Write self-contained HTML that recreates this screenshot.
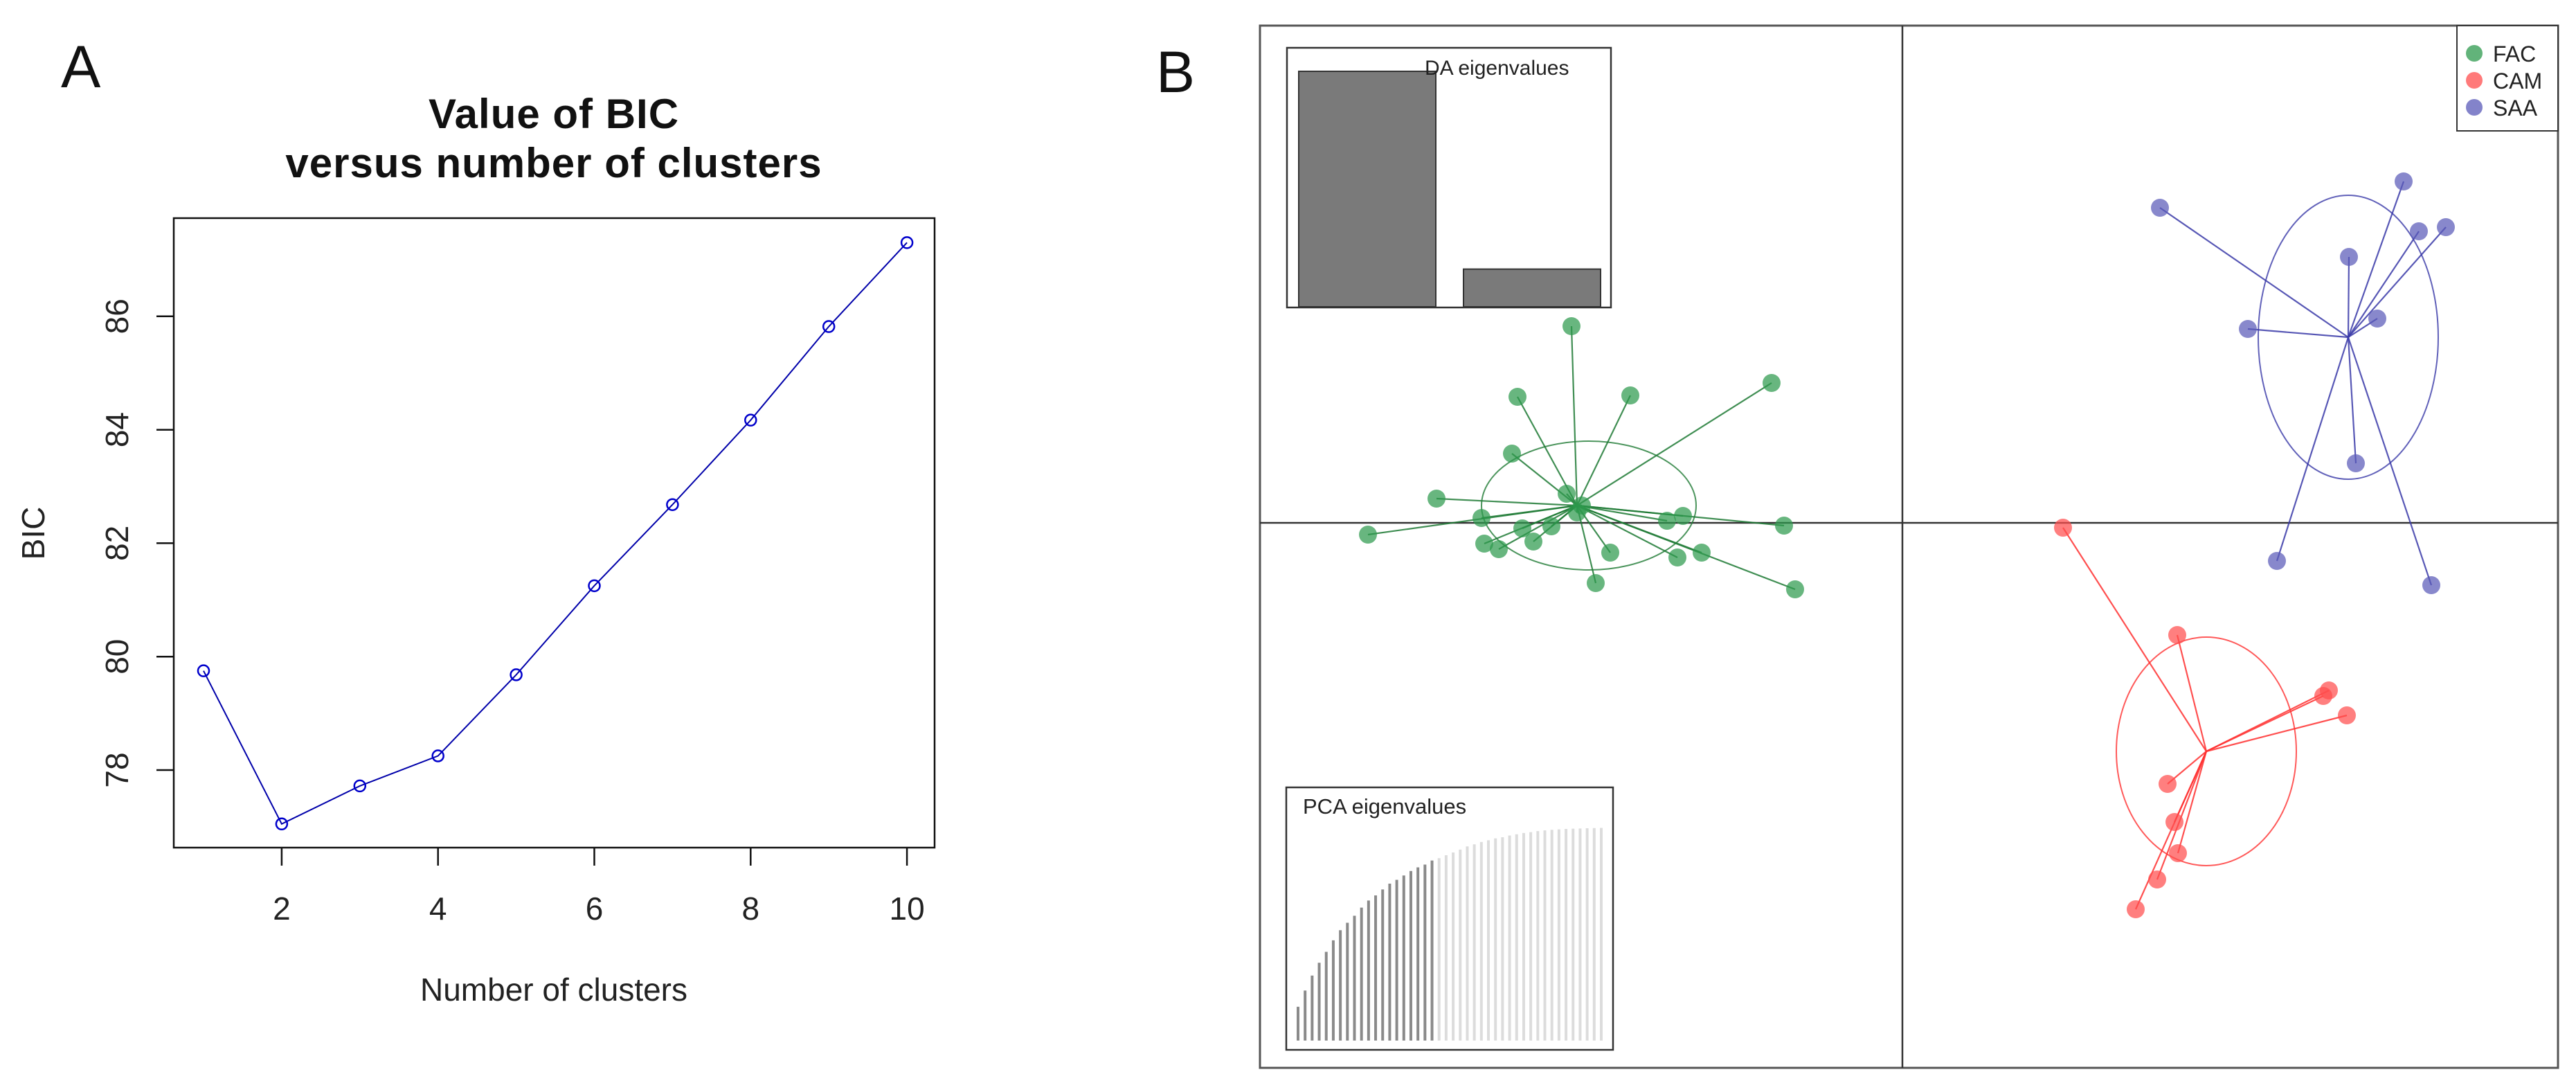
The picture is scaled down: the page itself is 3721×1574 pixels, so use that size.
<!DOCTYPE html>
<html><head><meta charset="utf-8"><style>
html,body{margin:0;padding:0;background:#fff;}
svg{display:block;font-family:"Liberation Sans",sans-serif;}
</style></head><body>
<svg id="chart" width="3721" height="1574" viewBox="0 0 3721 1574" xmlns="http://www.w3.org/2000/svg">
<rect width="3721" height="1574" fill="#fff"/>
<text x="88" y="126" font-size="86" fill="#111">A</text>
<text x="1670" y="133" font-size="84" fill="#111">B</text>
<g id="panelA"></g>
<g id="panelB"></g>
</svg>
<script>
// ---- Panel A data ----
const clusters = [1,2,3,4,5,6,7,8,9,10];
const bicValues = [79.75,77.05,77.72,78.25,79.68,81.25,82.68,84.17,85.82,87.3];
const xTicks = [2,4,6,8,10];
const yTicks = [78,80,82,84,86];

// ---- Panel B data ----
const facLD1 = [-4.78,-1.89,-5.56,-3.93,-5.64,-6.73,-4.85,-6.08,-7.72,-5.49,-5.07,-5.33,-6.04,-5.83,-4.22,-3.40,-3.17,-1.71,-2.90,-3.25,-4.43,-1.55,-4.70,-4.63];
const facLD2 = [2.84,2.02,1.82,1.84,1.00,0.35,0.42,0.07,-0.17,-0.08,-0.05,-0.27,-0.30,-0.38,-0.43,0.03,0.10,-0.04,-0.43,-0.50,-0.87,-0.96,0.15,0.25];
const saaLD1 = [3.72,7.24,7.46,7.85,6.45,6.86,4.99,6.55,5.41,7.64];
const saaLD2 = [4.55,4.93,4.21,4.27,3.84,2.95,2.80,0.86,-0.55,-0.90];
const camLD1 = [2.32,3.97,6.16,6.08,6.42,3.83,3.93,3.98,3.68,3.37];
const camLD2 = [-0.07,-1.62,-2.42,-2.50,-2.78,-3.77,-4.32,-4.77,-5.15,-5.58];
const groupNames = ["FAC","CAM","SAA"];
const centroidLD1 = [-4.70,4.39,6.44];
const centroidLD2 = [0.25,-3.30,2.68];
const ellipseCx = [-4.53,4.39,6.44];
const ellipseCy = [0.25,-3.30,2.68];
const ellipseRx = [1.55,1.30,1.30];
const ellipseRy = [0.93,1.65,2.05];
const daEigen = [100,16];
const pcaCumVar = [15.8,23.4,30.4,36.4,41.5,46.9,51.6,55.1,58.4,62.2,65.5,67.9,70.7,73.4,75.2,77.2,79.3,81.0,82.3,84.2,85.3,86.7,88.0,89.3,90.8,91.8,92.9,93.7,94.6,95.1,95.9,96.5,97.1,97.5,98.0,98.3,98.6,98.8,99.0,99.1,99.2,99.3,99.4,99.5];
const pcaRetained = 20;

const NS="http://www.w3.org/2000/svg";
function mk(tag, attrs, parent){const e=document.createElementNS(NS,tag);for(const k in attrs)e.setAttribute(k,attrs[k]);parent.appendChild(e);return e;}

// ---------- Panel A ----------
const A=document.getElementById('panelA');
const ax=v=>294+(v-1)*112.9;
const ay=v=>1112-(v-78)*81.9;
let t=mk('text',{x:800,y:185,'font-size':60,'font-weight':'bold','text-anchor':'middle',fill:'#111','letter-spacing':1},A);t.textContent='Value of BIC';


t=mk('text',{x:800,y:256,'font-size':60,'font-weight':'bold','text-anchor':'middle',fill:'#111','letter-spacing':1},A);t.textContent='versus number of clusters';


let r=mk('rect',{x:251,y:315,width:1099,height:909,fill:'none',stroke:'#111','stroke-width':2.5},A);


xTicks.forEach(v=>{
  const l=mk('line',{x1:ax(v),x2:ax(v),y1:1224,y2:1250,stroke:'#111','stroke-width':2.5},A);
  
  
  const tx=mk('text',{x:ax(v),y:1328,'font-size':46,'text-anchor':'middle',fill:'#222'},A);tx.textContent=v;
  
  
});
yTicks.forEach(v=>{
  const l=mk('line',{x1:226,x2:251,y1:ay(v),y2:ay(v),stroke:'#111','stroke-width':2.5},A);
  
  
  const tx=mk('text',{x:0,y:0,'font-size':46,'text-anchor':'middle',fill:'#222',transform:`translate(185,${ay(v)}) rotate(-90)`},A);tx.textContent=v;
  
  
});
t=mk('text',{x:800,y:1445,'font-size':46,'text-anchor':'middle',fill:'#222'},A);t.textContent='Number of clusters';


t=mk('text',{x:0,y:0,'font-size':46,'text-anchor':'middle',fill:'#222',transform:'translate(64,770) rotate(-90)'},A);t.textContent='BIC';


let pl=mk('polyline',{points:clusters.map((c,i)=>ax(c)+','+ay(bicValues[i])).join(' '),fill:'none',stroke:'#0000aa','stroke-width':2},A);


clusters.forEach((c,i)=>{
  const p=mk('circle',{cx:ax(c),cy:ay(bicValues[i]),r:8,fill:'none',stroke:'#0000cc','stroke-width':2.5},A);
  
  
});

// ---------- Panel B ----------
const B=document.getElementById('panelB');
const bx=v=>2748+v*100;
const by=v=>755-v*100;
r=mk('rect',{x:1820,y:37,width:1875,height:1505,fill:'none',stroke:'#555','stroke-width':3},B);


let l=mk('line',{x1:bx(0),x2:bx(0),y1:37,y2:1542,stroke:'#333','stroke-width':2.5},B);


l=mk('line',{x1:1820,x2:3695,y1:by(0),y2:by(0),stroke:'#333','stroke-width':2.5},B);



const groups=[
 {name:'fac',x:facLD1,y:facLD2,fill:'#2e9a4e',line:'#1f7a35',gi:0},
 {name:'cam',x:camLD1,y:camLD2,fill:'#ff4d4d',line:'#ff3030',gi:1},
 {name:'saa',x:saaLD1,y:saaLD2,fill:'#5a5ab8',line:'#3a3aa8',gi:2}
];
groups.forEach(g=>{
  const gi=g.gi;
  const e=mk('ellipse',{cx:bx(ellipseCx[gi]),cy:by(ellipseCy[gi]),rx:ellipseRx[gi]*100,ry:ellipseRy[gi]*100,fill:'none',stroke:g.line,'stroke-width':2,'stroke-opacity':0.8},B);
  
  
  g.x.forEach((v,i)=>{
    const s=mk('line',{x1:bx(centroidLD1[gi]),y1:by(centroidLD2[gi]),x2:bx(v),y2:by(g.y[i]),stroke:g.line,'stroke-width':2.2,'stroke-opacity':0.85},B);
    
    
  });
  g.x.forEach((v,i)=>{
    const c=mk('circle',{cx:bx(v),cy:by(g.y[i]),r:13,fill:g.fill,'fill-opacity':0.72},B);
    
    
  });
});

// legend
r=mk('rect',{x:3549,y:37,width:146,height:152,fill:'#fff',stroke:'#333','stroke-width':2},B);


const legendColors=['#2e9a4e','#ff4d4d','#5a5ab8'];
groupNames.forEach((n,i)=>{
  const c=mk('circle',{cx:3574,cy:77+i*39,r:12,fill:legendColors[i],'fill-opacity':0.75},B);
  
  
  const tx=mk('text',{x:3601,y:89+i*39,'font-size':32,fill:'#222'},B);tx.textContent=n;
  
  
});

// DA eigenvalues inset
r=mk('rect',{x:1859,y:69,width:468,height:375,fill:'#fff',stroke:'#333','stroke-width':2.5},B);


const daBase=443, daScale=3.4;
daEigen.forEach((v,i)=>{
  const x0=1876+i*238;
  const b=mk('rect',{x:x0,y:daBase-v*daScale,width:198,height:v*daScale,fill:'#7a7a7a',stroke:'#333','stroke-width':2},B);
  
  
});
t=mk('text',{x:2058,y:108,'font-size':30,fill:'#222'},B);t.textContent='DA eigenvalues';



// PCA eigenvalues inset
r=mk('rect',{x:1858,y:1137,width:472,height:379,fill:'#fff',stroke:'#333','stroke-width':2.5},B);


t=mk('text',{x:1882,y:1175,'font-size':31,fill:'#222'},B);t.textContent='PCA eigenvalues';


const pcaBase=1502.6, pcaScale=3.087, pcaStep=(2313-1875)/(pcaCumVar.length-1);
pcaCumVar.forEach((v,i)=>{
  const x=1875+i*pcaStep;
  const b=mk('line',{x1:x,x2:x,y1:pcaBase,y2:pcaBase-v*pcaScale,stroke:i<pcaRetained?'#8a8a8a':'#dcdcdc','stroke-width':4},B);
  
  
});
</script>
</body></html>
